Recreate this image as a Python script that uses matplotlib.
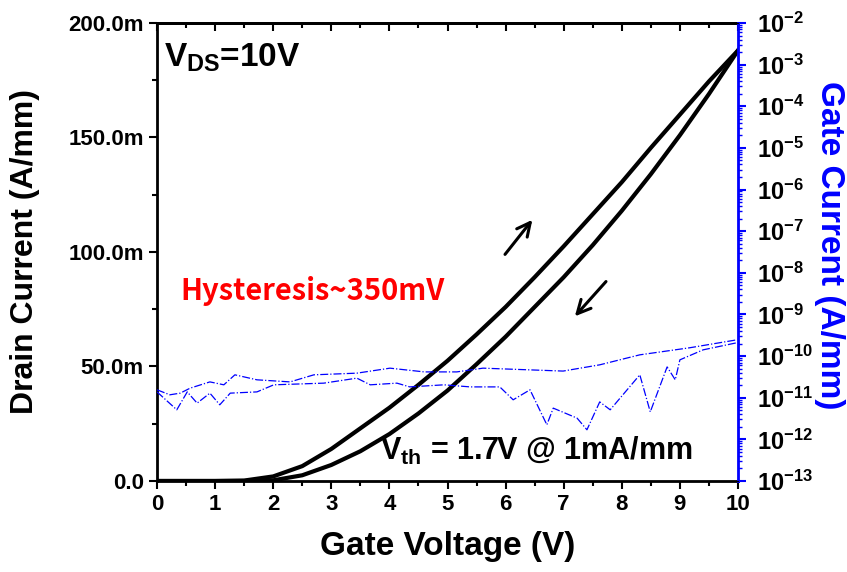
import numpy as np
import matplotlib
matplotlib.use("Agg")
import matplotlib.pyplot as plt
from matplotlib.ticker import FixedLocator, FuncFormatter, LogLocator, NullFormatter

# Drain current, forward sweep (V, mA/mm)
vg_fwd = [0.0, 1.0, 1.5, 2.0, 2.5, 3.0, 3.5, 4.0, 4.5, 5.0, 5.5, 6.0, 6.5, 7.0,
          7.5, 8.0, 8.5, 9.0, 9.5, 10.0]
id_fwd = [0.0, 0.0, 0.2, 2.0, 6.5, 14.0, 23.0, 32.0, 42.0, 52.5, 64.0, 76.0,
          89.0, 102.5, 116.5, 130.5, 145.5, 160.0, 174.5, 188.0]

# Drain current, reverse sweep
vg_rev = [0.0, 1.5, 2.0, 2.5, 3.0, 3.5, 4.0, 4.5, 5.0, 5.5, 6.0, 6.5, 7.0, 7.5,
          8.0, 8.5, 9.0, 9.5, 10.0]
id_rev = [0.0, 0.0, 0.3, 2.5, 7.0, 13.0, 20.5, 29.5, 39.5, 51.0, 63.0, 76.0,
          89.0, 103.0, 118.0, 134.0, 151.0, 169.0, 188.0]

# Gate current traces (V, log10 A/mm)
vg_ga = [0.00, 0.22, 0.40, 0.57, 0.91, 1.15, 1.34, 1.72, 2.29, 2.70, 3.44, 4.01,
         4.60, 5.16, 5.61, 6.99, 7.62, 8.31, 9.17, 9.98]
lg_ga = [-10.81, -10.93, -10.89, -10.77, -10.62, -10.69, -10.45, -10.57, -10.62,
         -10.45, -10.41, -10.29, -10.38, -10.38, -10.29, -10.36, -10.21, -9.97,
         -9.80, -9.61]
vg_gb = [0.00, 0.34, 0.52, 0.69, 0.91, 1.08, 1.26, 1.72, 2.01, 2.87, 3.44, 3.67,
         4.13, 4.35, 4.94, 5.39, 5.90, 6.13, 6.42, 6.71, 6.82, 7.23, 7.40, 7.62,
         7.80, 8.31, 8.49, 8.78, 8.92, 9.00, 9.40, 9.98]
lg_gb = [-10.86, -11.29, -10.86, -11.13, -10.89, -11.17, -10.89, -10.86, -10.69,
         -10.65, -10.53, -10.69, -10.65, -10.74, -10.69, -10.74, -10.74, -11.05,
         -10.81, -11.65, -11.25, -11.49, -11.77, -11.10, -11.29, -10.45, -11.34,
         -10.26, -10.57, -10.09, -9.85, -9.68]

plt.rcParams['font.family'] = ['Liberation Sans', 'DejaVu Sans']
plt.rcParams['mathtext.fontset'] = 'custom'
plt.rcParams['mathtext.bf'] = 'Liberation Sans:bold'
plt.rcParams['mathtext.rm'] = 'Liberation Sans:bold'

fig = plt.figure(figsize=(8.47, 5.72), dpi=100)
ax = fig.add_axes([0.1854, 0.1591, 0.6859, 0.8007])
ax2 = ax.twinx()

ax.plot(vg_fwd, np.array(id_fwd) / 1000, color='black', lw=3)
ax.plot(vg_rev, np.array(id_rev) / 1000, color='black', lw=3)
ax2.plot(vg_ga, 10.0 ** np.array(lg_ga), color='blue', lw=0.9, ls='-.')
ax2.plot(vg_gb, 10.0 ** np.array(lg_gb), color='blue', lw=0.9, ls='-.')

ax.set_xlim(0, 10)
ax.set_ylim(0, 0.2)
ax2.set_yscale('log')
ax2.set_ylim(1e-13, 1e-2)

ax.set_xticks(np.arange(0, 11, 1))
ax.xaxis.set_minor_locator(FixedLocator(np.arange(0.5, 10, 1)))
ax.set_yticks(np.arange(0, 0.201, 0.05))
ax.yaxis.set_minor_locator(FixedLocator(np.arange(0.025, 0.2, 0.05)))
ax.yaxis.set_major_formatter(FuncFormatter(lambda v, p: '0.0' if v == 0 else f'{v*1000:.1f}m'))

# top axis: mirrored ticks pointing inward
top = ax.secondary_xaxis('top')
top.set_xticks(np.arange(0, 11, 1))
top.xaxis.set_minor_locator(FixedLocator(np.arange(0.5, 10, 1)))
top.tick_params(which='major', direction='in', length=6, width=1.5, labeltop=False)
top.tick_params(which='minor', direction='in', length=3.5, width=1.5)
top.spines['top'].set_linewidth(2)

ax2.yaxis.set_major_locator(LogLocator(base=10, numticks=20))
ax2.yaxis.set_minor_locator(LogLocator(base=10, subs=np.arange(2, 10), numticks=20))
ax2.yaxis.set_minor_formatter(NullFormatter())
ax2.yaxis.set_major_formatter(FuncFormatter(lambda v, p: r'$\mathbf{10^{%d}}$' % round(np.log10(v))))

for lab in ax.get_xticklabels() + ax.get_yticklabels():
    lab.set_fontweight('bold')
    lab.set_fontsize(16)
for lab in ax2.get_yticklabels():
    lab.set_fontsize(17)

ax.tick_params(axis='both', which='major', direction='out', length=6, width=1.5)
ax.tick_params(axis='both', which='minor', direction='out', length=3.5, width=1.5)
ax2.tick_params(axis='y', which='major', direction='out', length=6, width=1.5,
                colors='blue', labelcolor='black', pad=8)
ax2.tick_params(axis='y', which='minor', direction='out', length=3, width=1, colors='blue')

for s in ['left', 'bottom', 'top']:
    ax.spines[s].set_linewidth(2)
ax2.spines['right'].set_color('blue')
ax2.spines['right'].set_linewidth(2)
ax2.spines['left'].set_visible(False)

ax.set_xlabel('Gate Voltage (V)', fontsize=24, fontweight='bold', va='center')
ax.xaxis.set_label_coords(0.5, -0.144)
ax.set_ylabel('Drain Current (A/mm)', fontsize=23, fontweight='bold', va='center')
ax.yaxis.set_label_coords(-0.227, 0.5)
ax2.set_ylabel('Gate Current (A/mm)', fontsize=24, fontweight='bold', color='blue',
               rotation=270, va='center')
ax2.yaxis.set_label_coords(1.158, 0.515)

ax.text(0.012, 0.905, r'$\mathbf{V_{DS}}$=10V', transform=ax.transAxes,
        fontsize=24, fontweight='bold', va='baseline')
ax.text(0.268, 0.415, 'Hysteresis~350mV', transform=ax.transAxes, ha='center', va='center',
        fontsize=21, fontweight='bold', color='red',
        family=['Noto Sans CJK KR', 'DejaVu Sans'])
ax.text(0.384, 0.045, r'$\mathbf{V_{th}}$ = 1.7V @ 1mA/mm', transform=ax.transAxes,
        fontsize=22, fontweight='bold', va='baseline')

ax.annotate('', xy=(6.49, 0.115), xytext=(5.96, 0.098),
            arrowprops=dict(arrowstyle='->', lw=2.2, color='black', mutation_scale=24))
ax.annotate('', xy=(7.16, 0.071), xytext=(7.76, 0.088),
            arrowprops=dict(arrowstyle='->', lw=2.2, color='black', mutation_scale=24))

fig.savefig('out.png', dpi=100)
